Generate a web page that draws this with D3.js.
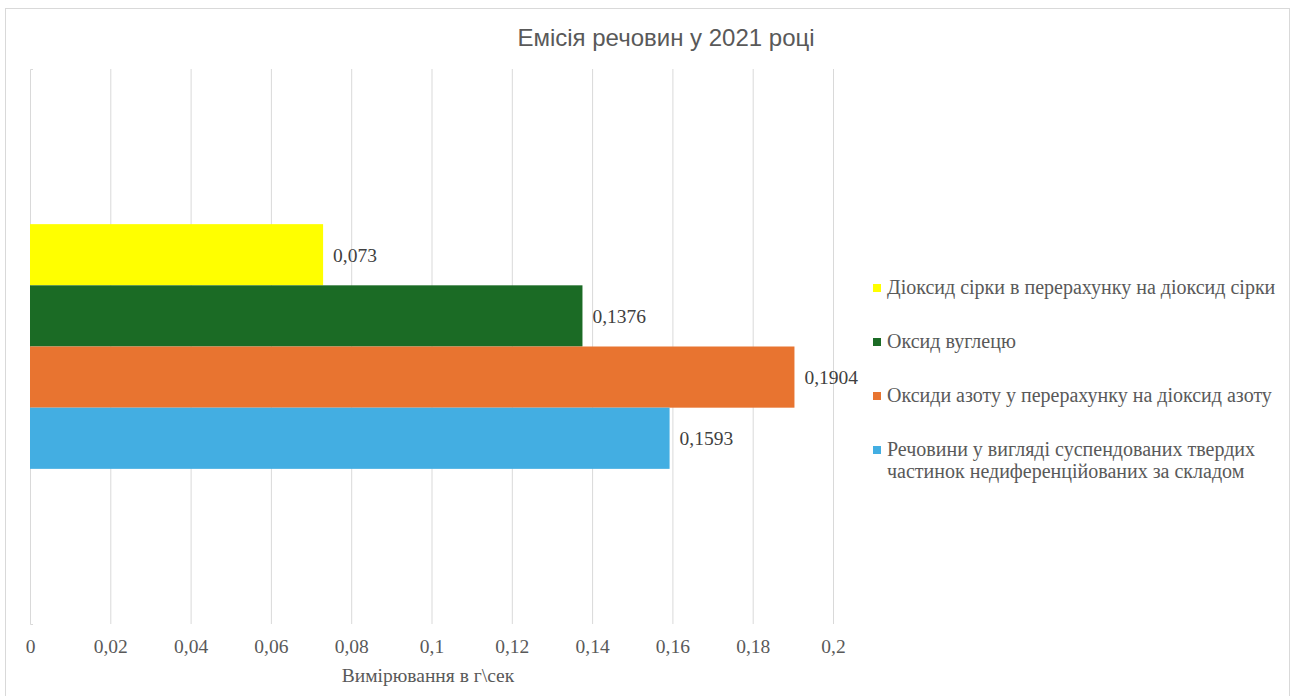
<!DOCTYPE html>
<html lang="uk">
<head>
<meta charset="utf-8">
<title>Емісія речовин у 2021 році</title>
<script src="https://cdn.jsdelivr.net/npm/d3@7"></script>
<style>
  html, body { margin: 0; padding: 0; background: #ffffff; }
  svg { display: block; }
</style>
</head>
<body>
<svg id="chart" width="1297" height="696"></svg>
<script>
// Emission data for 2021 (g/sec)
const categories = ["2021"];
const seriesNames = [
  "Діоксид сірки в перерахунку на діоксид сірки",
  "Оксид вуглецю",
  "Оксиди азоту у перерахунку на діоксид азоту",
  "Речовини у вигляді суспендованих твердих частинок недиференційованих за складом"
];
const seriesValues = [0.073, 0.1376, 0.1904, 0.1593];
const seriesLabels = ["0,073", "0,1376", "0,1904", "0,1593"];
const seriesColors = ["#FFFF00", "#1B6B25", "#E87430", "#43AEE2"];
const tickValues = [0, 0.02, 0.04, 0.06, 0.08, 0.1, 0.12, 0.14, 0.16, 0.18, 0.2];
const tickLabels = ["0", "0,02", "0,04", "0,06", "0,08", "0,1", "0,12", "0,14", "0,16", "0,18", "0,2"];
const legendLines = [
  ["Діоксид сірки в перерахунку на діоксид сірки"],
  ["Оксид вуглецю"],
  ["Оксиди азоту у перерахунку на діоксид азоту"],
  ["Речовини у вигляді суспендованих твердих", "частинок недиференційованих за складом"]
];
const chartTitle = "Емісія речовин у 2021 році";
const axisTitle = "Вимірювання в г\\сек";

const svg = d3.select("#chart");
const serif = "'Liberation Serif', 'Times New Roman', serif";
const sans = "'Liberation Sans', Arial, sans-serif";
const gridColor = "#d9d9d9";

// Chart frame
svg.append("rect")
  .attr("x", 5.5).attr("y", 8.5)
  .attr("width", 1284).attr("height", 720)
  .attr("fill", "#ffffff")
  .attr("stroke", gridColor).attr("stroke-width", 1);

// Title
svg.append("text")
  .attr("x", 666).attr("y", 46)
  .attr("text-anchor", "middle")
  .attr("font-family", sans).attr("font-size", 24)
  .attr("fill", "#595959")
  .text(chartTitle);

// Plot area
const plot = { left: 30, right: 833, top: 69, bottom: 624 };
const x = d3.scaleLinear().domain([0, 0.2]).range([plot.left, plot.right]);
const yCat = d3.scaleBand().domain(categories)
  .range([plot.top, plot.bottom]).paddingInner(0).paddingOuter(0.634);
const ySeries = d3.scaleBand().domain(d3.range(seriesValues.length))
  .range([0, yCat.bandwidth()]).padding(0);

// Vertical gridlines with tick labels
const xAxis = d3.axisBottom(x)
  .tickValues(tickValues)
  .tickFormat((d, i) => tickLabels[i])
  .tickSize(-(plot.bottom - plot.top))
  .tickPadding(15);
const gx = svg.append("g")
  .attr("transform", `translate(0,${plot.bottom})`)
  .call(xAxis);
gx.select(".domain").remove();
gx.selectAll(".tick line").attr("stroke", gridColor).attr("stroke-width", 1)
  .filter(d => d === 0).remove();
gx.selectAll(".tick text")
  .attr("font-family", serif).attr("font-size", 19.5)
  .attr("fill", "#595959");

// Vertical category axis line at zero
const yAxis = d3.axisLeft(yCat).tickValues([]).tickSizeOuter(-3);
const gy = svg.append("g")
  .attr("transform", `translate(${plot.left},0)`)
  .call(yAxis);
gy.select(".domain").attr("stroke", gridColor).attr("stroke-width", 1);

// Bars
const catY = yCat(categories[0]);
svg.append("g").selectAll("rect")
  .data(seriesValues)
  .join("rect")
  .attr("x", x(0))
  .attr("y", (d, i) => catY + ySeries(i))
  .attr("width", d => x(d) - x(0))
  .attr("height", ySeries.bandwidth())
  .attr("fill", (d, i) => seriesColors[i]);

// Value labels
svg.append("g").selectAll("text")
  .data(seriesValues)
  .join("text")
  .attr("x", d => x(d) + 10)
  .attr("y", (d, i) => catY + ySeries(i) + ySeries.bandwidth() / 2 + 7)
  .attr("font-family", serif).attr("font-size", 19.5)
  .attr("fill", "#404040")
  .text((d, i) => seriesLabels[i]);

// Axis title
svg.append("text")
  .attr("x", 428).attr("y", 682)
  .attr("text-anchor", "middle")
  .attr("font-family", serif).attr("font-size", 19.5)
  .attr("fill", "#595959")
  .text(axisTitle);

// Legend
const legendTop = 288;
const legendStep = 54;
const legend = svg.append("g");
legendLines.forEach((lines, i) => {
  const cy = legendTop + i * legendStep;
  legend.append("rect")
    .attr("x", 873).attr("y", cy - 4)
    .attr("width", 8).attr("height", 8)
    .attr("fill", seriesColors[i]);
  const t = legend.append("text")
    .attr("font-family", serif).attr("font-size", 20)
    .attr("fill", "#595959");
  lines.forEach((line, j) => {
    t.append("tspan")
      .attr("x", 887)
      .attr("y", cy + 6 + j * 22)
      .text(line);
  });
});
</script>
</body>
</html>
